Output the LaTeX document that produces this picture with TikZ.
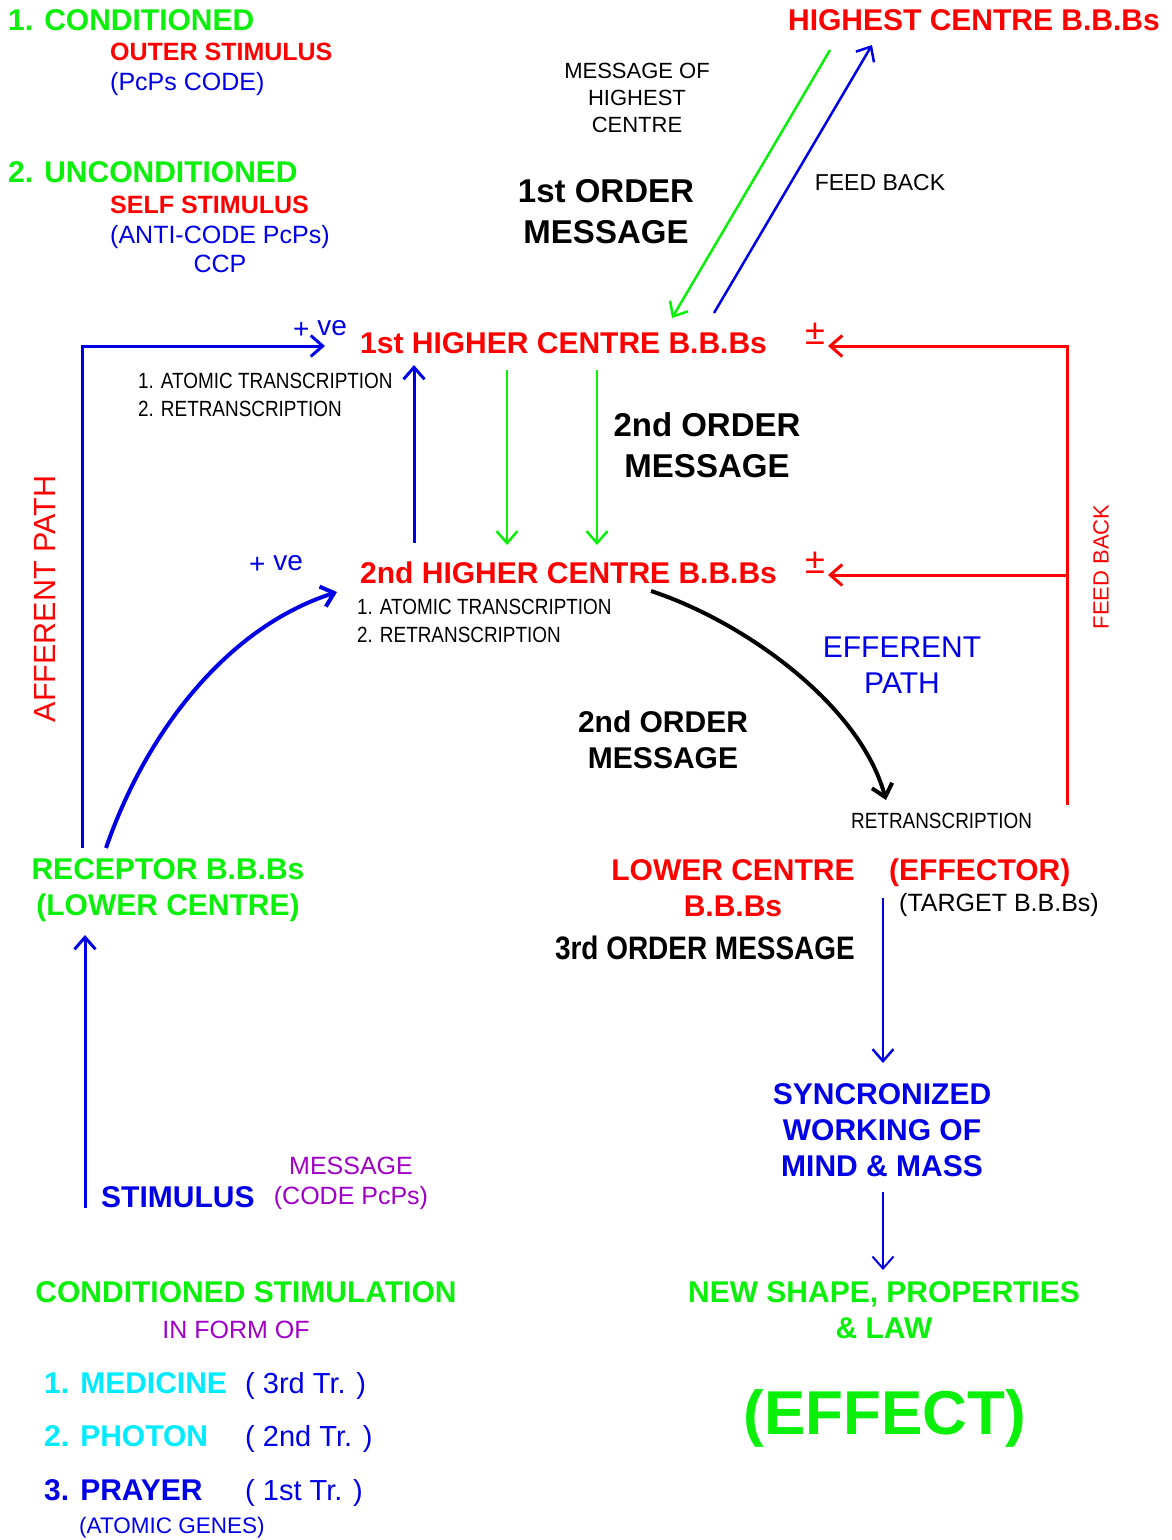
\documentclass[tikz,border=0pt]{standalone}
\usepackage{fontspec}
\setmainfont{Liberation Sans}
\newfontfamily\narrowfont[FakeStretch=0.86]{Liberation Sans}
\usetikzlibrary{arrows.meta, positioning}
\definecolor{vred}{RGB}{255,0,0}
\definecolor{vgreen}{RGB}{10,240,10}
\definecolor{vblue}{RGB}{0,0,230}
\definecolor{vcyan}{RGB}{0,235,255}
\definecolor{vpurple}{RGB}{160,0,200}
\newcommand{\fsz}[2]{\fontsize{#1}{#2}\selectfont}

\begin{document}
\begin{tikzpicture}[x=1pt, y=-1pt, >={Straight Barb[length=12pt,width=21pt]},
	every node/.style={inner sep=0pt, align=center},
	head/.style={font=\fsz{30}{36}\bfseries},
	sub/.style={font=\fsz{25}{30}\bfseries},
	plain/.style={font=\fsz{25}{30}},
	small/.style={font=\fsz{22}{28}\narrowfont},
	order/.style={font=\fsz{33}{41}\bfseries},
	pmsign/.style={font=\fsz{36}{40}, text=vred},
	vesign/.style={font=\fsz{28}{30}, text=vblue},
	bline/.style={draw=vblue, line width=3pt},
	rline/.style={draw=vred, line width=3pt},
	gline/.style={draw=vgreen, line width=2.5pt}]
	\useasboundingbox (0,0) rectangle (1171,1540);

	% stimulus kinds
	\node[head, anchor=west, text=vgreen] (cond) at (8,20) {1. CONDITIONED};
	\node[sub, anchor=west, text=vred] (outer) at (110,52) {OUTER STIMULUS};
	\node[plain, anchor=west, text=vblue] (pcps) at (110,84) {(PcPs CODE)};
	\node[head, anchor=west, text=vgreen] (uncond) at (8,172) {2. UNCONDITIONED};
	\node[sub, anchor=west, text=vred] (self) at (110,205) {SELF STIMULUS};
	\node[plain, anchor=west, text=vblue] (anti) at (110,237) {(ANTI-CODE PcPs)};
	\node[plain, text=vblue] (ccp) at (220,264) {CCP};

	% highest centre
	\node[head, anchor=east, text=vred] (highest) at (1160,20) {HIGHEST CENTRE B.B.Bs};
	\node[font=\fsz{22}{27}] (msghc) at (637,98) {MESSAGE OF\\HIGHEST\\CENTRE};
	\node[order] (first) at (606,212) {1st ORDER\\MESSAGE};
	\node[font=\fsz{23}{28}] (fbtop) at (880,183) {FEED BACK};
	\coordinate (hcdown) at (830,50);
	\coordinate (hcup) at (872,45);
	\coordinate (hc1in) at (672,318);
	\coordinate (hc1out) at (714,313);

	% 1st higher centre
	\node[head, anchor=west, text=vred] (hc1) at (360,343) {1st HIGHER CENTRE B.B.Bs};
	\node[vesign] (pve1) at (320,329) {+ \raisebox{3pt}{ve}};
	\node[small, anchor=west, align=left] (at1) at (138,395) {1. ATOMIC TRANSCRIPTION\\2. RETRANSCRIPTION};
	\node[pmsign] (pm1) at (815,334) {±};
	\node[order] (second) at (707,445) {2nd ORDER\\MESSAGE};

	% 2nd higher centre
	\node[head, anchor=west, text=vred] (hc2) at (360,573) {2nd HIGHER CENTRE B.B.Bs};
	\node[vesign] (pve2) at (276,564) {+ \raisebox{3pt}{ve}};
	\node[small, anchor=west, align=left] (at2) at (357,621) {1. ATOMIC TRANSCRIPTION\\2. RETRANSCRIPTION};
	\node[pmsign] (pm2) at (815,563) {±};

	% paths
	\node[rotate=90, font=\fsz{30.5}{36}, text=vred] (aff) at (45,599) {AFFERENT PATH};
	\node[rotate=90, font=\fsz{22}{28}, text=vred] (fbr) at (1101,567) {FEED BACK};
	\node[font=\fsz{30}{36}, text=vblue] (eff) at (902,665) {EFFERENT\\PATH};
	\node[font=\fsz{30}{36}\bfseries] (second2) at (663,740) {2nd ORDER\\MESSAGE};
	\node[small, anchor=west] (retr) at (851,821) {RETRANSCRIPTION};

	% lower centres
	\node[head, text=vgreen] (rcpt) at (168,890) {RECEPTOR B.B.Bs\\(LOWER CENTRE)};
	\node[head, text=vred] (lower) at (733,888) {LOWER CENTRE\\B.B.Bs};
	\node[head, anchor=west, text=vred] (effector) at (889,873) {(EFFECTOR)};
	\node[plain, anchor=west] (target) at (899,905) {(TARGET B.B.Bs)};
	\node[font=\fsz{32.5}{36}\narrowfont\bfseries, anchor=east] (third) at (855,948) {3rd ORDER MESSAGE};

	% effect side
	\node[head, text=vblue] (sync) at (882,1130) {SYNCRONIZED\\WORKING OF\\MIND \& MASS};
	\node[head, text=vgreen] (shape) at (884,1310) {NEW SHAPE, PROPERTIES\\\& LAW};
	\node[font=\fsz{62}{70}\bfseries, text=vgreen] (effect) at (885,1418) {(EFFECT)};

	% stimulus side
	\node[head, anchor=west, text=vblue] (stim) at (101,1197) {STIMULUS};
	\node[plain, text=vpurple] (msgcode) at (351,1183) {MESSAGE\\(CODE PcPs)};
	\node[head, text=vgreen] (condstim) at (246,1292) {CONDITIONED STIMULATION};
	\node[plain, text=vpurple] (inform) at (236,1330) {IN FORM OF};
	\node[head, anchor=west, text=vcyan] (med) at (44,1383) {1. MEDICINE};
	\node[font=\fsz{29}{34}, anchor=west, text=vblue] (tr3) at (245,1386) {( 3rd Tr. )};
	\node[head, anchor=west, text=vcyan] (phot) at (44,1436) {2. PHOTON};
	\node[font=\fsz{29}{34}, anchor=west, text=vblue] (tr2) at (245,1439) {( 2nd Tr. )};
	\node[head, anchor=west, text=vblue] (pray) at (44,1490) {3. PRAYER};
	\node[font=\fsz{29}{34}, anchor=west, text=vblue] (tr1) at (245,1493) {( 1st Tr. )};
	\node[font=\fsz{22.5}{27}, anchor=west, text=vblue] (genes) at (79,1528) {(ATOMIC GENES)};

	% connector ends
	\coordinate (afftop) at (325,346);
	\coordinate (affbot) at (82,848);
	\coordinate (curvbot) at (106,848);
	\coordinate (curvtop) at (337,592);
	\coordinate (up2) at (414,543);
	\coordinate (up1) at (414,365);
	\coordinate (fbbot) at (1067,805);
	\coordinate (fbmid) at (1067,575);
	\coordinate (fbin1) at (828,346);
	\coordinate (fbin2) at (828,575);
	\coordinate (effs) at (651,591);
	\coordinate (effe) at (886,800);
	\coordinate (tgttop) at (883,898);
	\coordinate (synctop) at (883,1063);
	\coordinate (syncbot) at (883,1192);
	\coordinate (shapetop) at (883,1270);
	\coordinate (stimbot) at (85,1208);
	\coordinate (stimtop) at (85,935);

	\draw[gline, ->] (hcdown) -- (hc1in);
	\draw[bline, line width=2.5pt, ->] (hc1out) -- (hcup);
	\draw[bline, ->] (affbot) |- (afftop);
	\draw[bline, line width=4pt, ->] (curvbot) .. controls (145,735) and (225,628) .. (curvtop);
	\draw[bline, ->] (up2) -- (up1);
	\foreach \x in {507,597}
		\draw[gline, ->] (\x,370) -- (\x,545);
	\draw[rline, ->] (fbbot) |- (fbin1);
	\draw[rline, ->] (fbmid) -- (fbin2);
	\draw[line width=4pt, ->] (effs) .. controls (745,622) and (860,705) .. (effe);
	\draw[bline, line width=2.5pt, ->] (tgttop) -- (synctop);
	\draw[bline, line width=2pt, ->] (syncbot) -- (shapetop);
	\draw[bline, ->] (stimbot) -- (stimtop);
\end{tikzpicture}
\end{document}
